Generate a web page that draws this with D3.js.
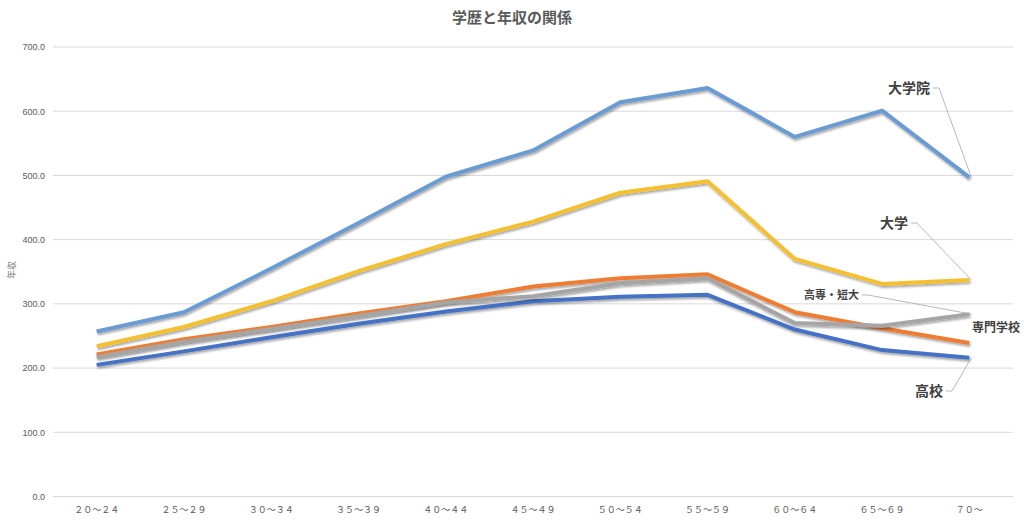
<!DOCTYPE html>
<html><head><meta charset="utf-8">
<script src="https://cdn.jsdelivr.net/npm/d3@7"></script>
<style>
html,body{margin:0;padding:0;background:#fff;}
text{font-family:"Noto Sans CJK JP","Noto Sans",sans-serif;}
</style></head>
<body><svg id="c" width="1024" height="525"></svg>
<script>
const categories = ["２０～２４","２５～２９","３０～３４","３５～３９","４０～４４","４５～４９","５０～５４","５５～５９","６０～６４","６５～６９","７０～"];
const yTicks = [0,100,200,300,400,500,600,700];
const seriesNames = ["高校","専門学校","高専・短大","大学","大学院"];
const kokou    = [205,226,248,269,288,304,311,314,260,228,216];
const senmon   = [221,245,264,285,304,327,340,346,287,262,239];
const kosen    = [217,241,261,281,302,312,332,340,270,266,284];
const daigaku  = [234,264,304,351,393,428,473,491,370,331,337];
const daigakuin= [257,287,355,426,498,539,614,636,560,601,497];
const seriesValues = [kokou, senmon, kosen, daigaku, daigakuin];
const colors = ["#4472C4","#ED7D31","#A5A5A5","#F4C030","#6A9BD3"];

const svg = d3.select("#c");
const defs = svg.append("defs");
const f = defs.append("filter").attr("id","sh").attr("x","-5%").attr("y","-5%").attr("width","110%").attr("height","120%");
f.append("feDropShadow").attr("dx",1).attr("dy",2).attr("stdDeviation",1.2).attr("flood-color","#000").attr("flood-opacity",0.35);

const mLeft=53, mRight=1013, mTop=47, mBottom=496.5;
const x = d3.scaleBand().domain(categories).range([mLeft,mRight]);
const y = d3.scaleLinear().domain([0,700]).range([mBottom,mTop]);

// gridlines
svg.append("g").selectAll("line").data(yTicks).join("line")
  .attr("x1",mLeft).attr("x2",mRight).attr("y1",d=>y(d)).attr("y2",d=>y(d))
  .attr("stroke","#d9d9d9").attr("stroke-width",1);

// y axis labels
const ya = svg.append("g").attr("transform",`translate(${mLeft},0)`)
  .call(d3.axisLeft(y).tickValues(yTicks).tickFormat(d3.format(".1f")).tickSize(0).tickPadding(8));
ya.select(".domain").remove();
ya.selectAll("text").attr("fill","#595959").style("font-size","9px").style("font-family","'Liberation Sans',Arial,sans-serif");

// x axis labels
const xa = svg.append("g").attr("transform",`translate(0,${mBottom})`)
  .call(d3.axisBottom(x).tickSize(0).tickPadding(10));
xa.select(".domain").remove();
xa.selectAll("text").attr("fill","#595959").style("font-size","9px");

// y axis title
svg.append("text").attr("transform","translate(15,270) rotate(-90)").attr("text-anchor","middle")
  .attr("fill","#808080").style("font-size","9px").text("年収");

// title
svg.append("text").attr("x",512).attr("y",23).attr("text-anchor","middle")
  .attr("fill","#595959").style("font-size","15px").style("font-weight","bold").text("学歴と年収の関係");

// lines
const line = d3.line().x((d,i)=>x(categories[i])+x.bandwidth()/2).y(d=>y(d));
svg.append("g").selectAll("path").data(seriesValues).join("path")
  .attr("d",d=>line(d)).attr("fill","none").attr("stroke",(d,i)=>colors[i])
  .attr("stroke-width",4).attr("stroke-linejoin","round").attr("filter","url(#sh)");

// data labels at last point
const lastX = x(categories[categories.length-1])+x.bandwidth()/2;
const labels = [
  {s:4, text:"大学院", lx:930, ly:88, size:14, anchor:"end"},
  {s:3, text:"大学",   lx:908, ly:223, size:14, anchor:"end"},
  {s:2, text:"高専・短大", lx:859, ly:295, size:11, anchor:"end"},
  {s:1, text:"専門学校", lx:972, ly:328, size:12, anchor:"start", noLeader:true},
  {s:0, text:"高校",   lx:943, ly:391, size:14, anchor:"end"}
];
const lg = svg.append("g");
labels.forEach(l=>{
  const v = seriesValues[l.s][seriesValues[l.s].length-1];
  if(!l.noLeader){
    lg.append("polyline")
      .attr("points",`${l.lx+3},${l.ly} ${l.lx+9},${l.ly} ${lastX+2},${y(v)}`)
      .attr("fill","none").attr("stroke","#a6a6a6").attr("stroke-width",0.8);
  }
  lg.append("text").attr("x",l.lx).attr("y",l.ly).attr("dy","0.35em").attr("text-anchor",l.anchor)
    .attr("fill","#404040").style("font-size",l.size+"px").style("font-weight","bold").text(l.text);
});
</script></body></html>
